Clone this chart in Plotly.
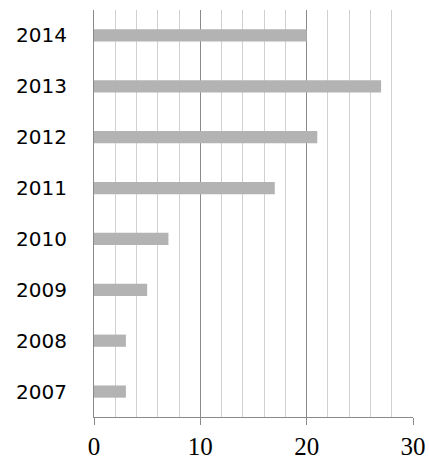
import plotly.graph_objects as go

years = ["2007", "2008", "2009", "2010", "2011", "2012", "2013", "2014"]
values = [3, 3, 5, 7, 17, 21, 27, 20]
x_ticks = [0, 10, 20, 30]

fig = go.Figure(go.Bar(
    y=years, x=values, orientation="h",
    marker=dict(color="#b3b3b3", line=dict(width=0)),
))

fig.update_layout(
    width=429, height=462,
    margin=dict(l=94, r=16, t=10, b=45, autoexpand=False),
    plot_bgcolor="white", paper_bgcolor="white",
    bargap=0.76,
    showlegend=False,
)
fig.update_xaxes(
    range=[0, 30], tickvals=x_ticks, ticktext=[str(v) for v in x_ticks],
    showgrid=True, gridcolor="#8a8a8a", gridwidth=1,
    minor=dict(dtick=2, tick0=0, showgrid=True, gridcolor="#d0d0d0", gridwidth=1),
    showline=True, linecolor="#8a8a8a", linewidth=1,
    ticks="outside", ticklen=7, tickcolor="#8a8a8a",
    zeroline=False, automargin=False,
    tickfont=dict(family="Liberation Serif", size=25, color="black"),
)
fig.update_yaxes(
    type="category", categoryorder="array", categoryarray=years,
    showgrid=False, showline=True, linecolor="#8a8a8a", linewidth=1,
    ticks="", ticklabelstandoff=22, automargin=False,
    tickfont=dict(family="DejaVu Sans", size=20, color="black"),
)

fig.write_html(
    "out.html",
    config={"displayModeBar": False},
    post_script="document.body.style.margin='0';document.body.style.overflow='hidden';",
)
